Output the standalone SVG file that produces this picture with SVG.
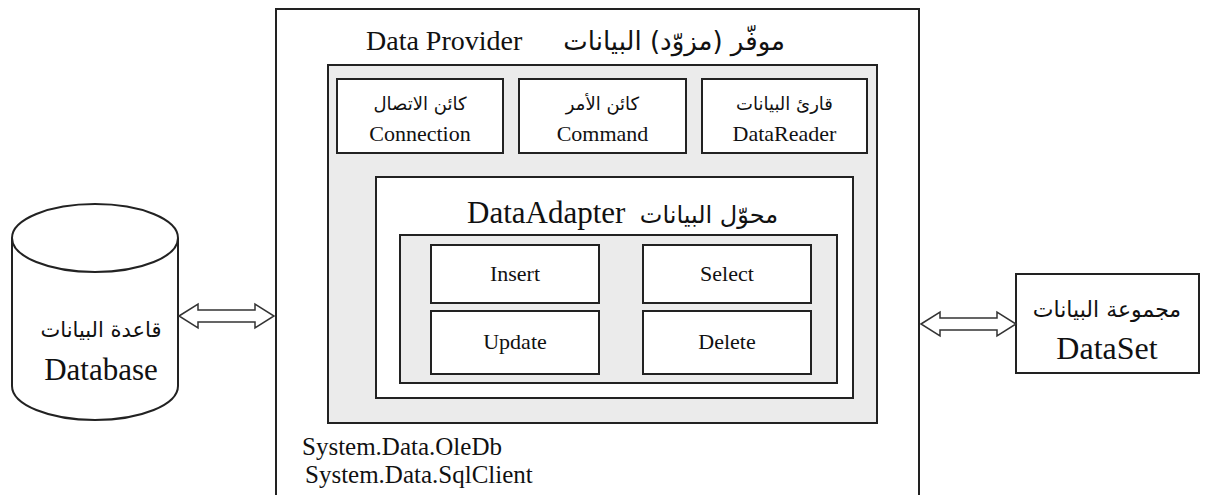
<svg xmlns="http://www.w3.org/2000/svg" width="1231" height="495" viewBox="0 0 1231 495">
<style>
.box{fill:#fff;stroke:#222;stroke-width:2}
.gray{fill:#ebebeb;stroke:#222;stroke-width:2}
.en{font-family:"Liberation Serif","Times New Roman",serif;fill:#111}
.ar{font-family:"DejaVu Sans","Noto Sans",sans-serif;fill:#111;direction:rtl}
.arrow{fill:#fff;stroke:#333;stroke-width:1.5;stroke-linejoin:miter}
</style>
<rect width="1231" height="495" fill="#fff"/>

<g id="dataProvider">
  <rect class="box" x="276" y="9" width="643" height="500"/>
  <text class="en" x="366" y="50" font-size="28">Data Provider</text>
  <text class="ar" x="785" y="50" font-size="26" text-anchor="start">موفّر (مزوّد) البيانات</text>
  <rect class="gray" x="328" y="65" width="549" height="358"/>
  <text class="en" x="302" y="455" font-size="25">System.Data.OleDb</text>
  <text class="en" x="305" y="483" font-size="25">System.Data.SqlClient</text>
</g>

<g id="connection">
  <rect class="box" x="337" y="79" width="166" height="74"/>
  <text class="ar" x="420" y="110" font-size="18" text-anchor="middle">كائن الاتصال</text>
  <text class="en" x="420" y="141" font-size="22" text-anchor="middle">Connection</text>
</g>
<g id="command">
  <rect class="box" x="519" y="79" width="167" height="74"/>
  <text class="ar" x="602.5" y="110" font-size="18" text-anchor="middle">كائن الأمر</text>
  <text class="en" x="602.5" y="141" font-size="22" text-anchor="middle">Command</text>
</g>
<g id="dataReader">
  <rect class="box" x="702" y="79" width="165" height="74"/>
  <text class="ar" x="784.5" y="110" font-size="18" text-anchor="middle">قارئ البيانات</text>
  <text class="en" x="784.5" y="141" font-size="22" text-anchor="middle">DataReader</text>
</g>

<g id="dataAdapter">
  <rect class="box" x="376" y="177" width="477" height="221"/>
  <text class="en" x="467" y="223" font-size="31">DataAdapter</text>
  <text class="ar" x="778" y="223" font-size="24" text-anchor="start">محوّل البيانات</text>
  <rect class="gray" x="400" y="235" width="437" height="148"/>
</g>
<g id="insert">
  <rect class="box" x="431" y="245" width="168" height="58"/>
  <text class="en" x="515" y="281" font-size="22" text-anchor="middle">Insert</text>
</g>
<g id="select">
  <rect class="box" x="643" y="245" width="168" height="58"/>
  <text class="en" x="727" y="281" font-size="22" text-anchor="middle">Select</text>
</g>
<g id="update">
  <rect class="box" x="431" y="311" width="168" height="63"/>
  <text class="en" x="515" y="349" font-size="22" text-anchor="middle">Update</text>
</g>
<g id="delete">
  <rect class="box" x="643" y="311" width="168" height="63"/>
  <text class="en" x="727" y="349" font-size="22" text-anchor="middle">Delete</text>
</g>

<g id="database">
  <path class="box" d="M12,238 L12,386 A83,34 0 0 0 178,386 L178,238"/>
  <ellipse class="box" cx="95" cy="238" rx="83" ry="34" stroke-width="1.5"/>
  <text class="ar" x="101" y="337" font-size="21" text-anchor="middle">قاعدة البيانات</text>
  <text class="en" x="101" y="380" font-size="31" text-anchor="middle">Database</text>
</g>

<g id="dataSet">
  <rect class="box" x="1016" y="274" width="183" height="99" stroke-width="1.5"/>
  <text class="ar" x="1107" y="317" font-size="22" text-anchor="middle">مجموعة البيانات</text>
  <text class="en" x="1107" y="359" font-size="32" text-anchor="middle">DataSet</text>
</g>

<g id="connectors">
  <polygon class="arrow" points="179,316 198,304 198,310 255,310 255,304 274,316 255,328 255,322 198,322 198,328"/>
  <polygon class="arrow" points="921,324 940,312 940,318 997,318 997,312 1016,324 997,336 997,330 940,330 940,336"/>
</g>
</svg>
